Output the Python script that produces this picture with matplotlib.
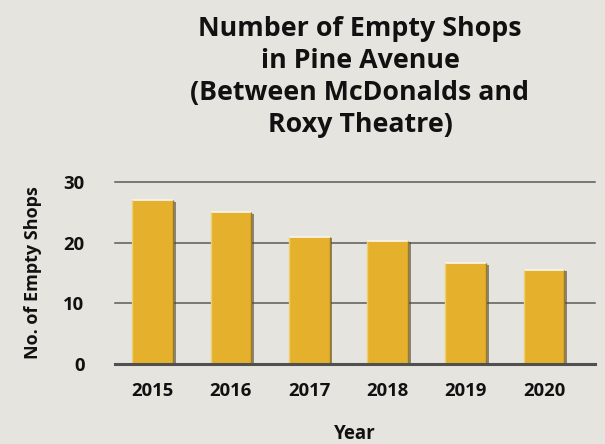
import matplotlib
matplotlib.use("Agg")
import matplotlib.pyplot as plt
import matplotlib.patheffects as pe

years = ["2015", "2016", "2017", "2018", "2019", "2020"]
empty_shops = [27, 25, 21, 20.3, 16.6, 15.5]
y_ticks = [0, 10, 20, 30]

title = "Number of Empty Shops\nin Pine Avenue\n(Between McDonalds and\nRoxy Theatre)"
x_label = "Year"
y_label = "No. of Empty Shops"

bg = "#e5e4de"
bar_color = "#e5b02b"
grid_color = "#5a5a5a"

plt.rcParams['font.family'] = ['Open Sans', 'DejaVu Sans']

fig = plt.figure(figsize=(6.05, 4.44), dpi=100, facecolor=bg)
ax = fig.add_axes([115/605, (444-364)/444, (595-115)/605, (364-182)/444])
ax.set_facecolor(bg)

x = list(range(len(years)))
bars = ax.bar(x, empty_shops, width=0.52, color=bar_color, zorder=3,
              path_effects=[pe.SimplePatchShadow(offset=(2.0, -1.0), shadow_rgbFace='#4a4536', alpha=0.6),
                            pe.Normal()])
# highlights and inner dark edge
for b in bars:
    x0, x1, h = b.get_x(), b.get_x() + b.get_width(), b.get_height()
    ax.plot([x0, x1], [h, h], color='#f7f3e6', lw=1.3, zorder=4, solid_capstyle='butt')
    ax.plot([x0, x0], [0, h], color='#efcf74', lw=1.0, zorder=4, solid_capstyle='butt')
    ax.plot([x1, x1], [0, h], color='#9c7a22', lw=1.0, zorder=4, solid_capstyle='butt')

ax.set_xlim(-0.48, 5.65)
ax.set_ylim(0, 30)
ax.set_yticks(y_ticks)
ax.set_xticks(x)
ax.set_xticklabels(years)

for t in y_ticks:
    if t == 0:
        ax.axhline(t, color='#505050', lw=2.2, zorder=5, clip_on=False)
    else:
        ax.axhline(t, color=grid_color, lw=1.1, zorder=1, clip_on=False)

for s in ax.spines.values():
    s.set_visible(False)
ax.tick_params(axis='both', length=0, labelsize=13.3, colors='#111111')
ax.tick_params(axis='y', pad=22)
ax.tick_params(axis='x', pad=13)
for lab in ax.get_xticklabels() + ax.get_yticklabels():
    lab.set_fontweight('bold')

ax.set_xlabel(x_label, fontsize=13.5, fontweight='bold', color='#111111', labelpad=17)
ax.set_ylabel(y_label, fontsize=13, fontweight='bold', color='#111111', labelpad=15)

fig.text(360/605, 1 - 16/444, title, ha='center', va='top', fontsize=19.3,
         fontweight='bold', color='#111111', linespacing=1.3)

fig.savefig("out.png", dpi=100, facecolor=bg)
